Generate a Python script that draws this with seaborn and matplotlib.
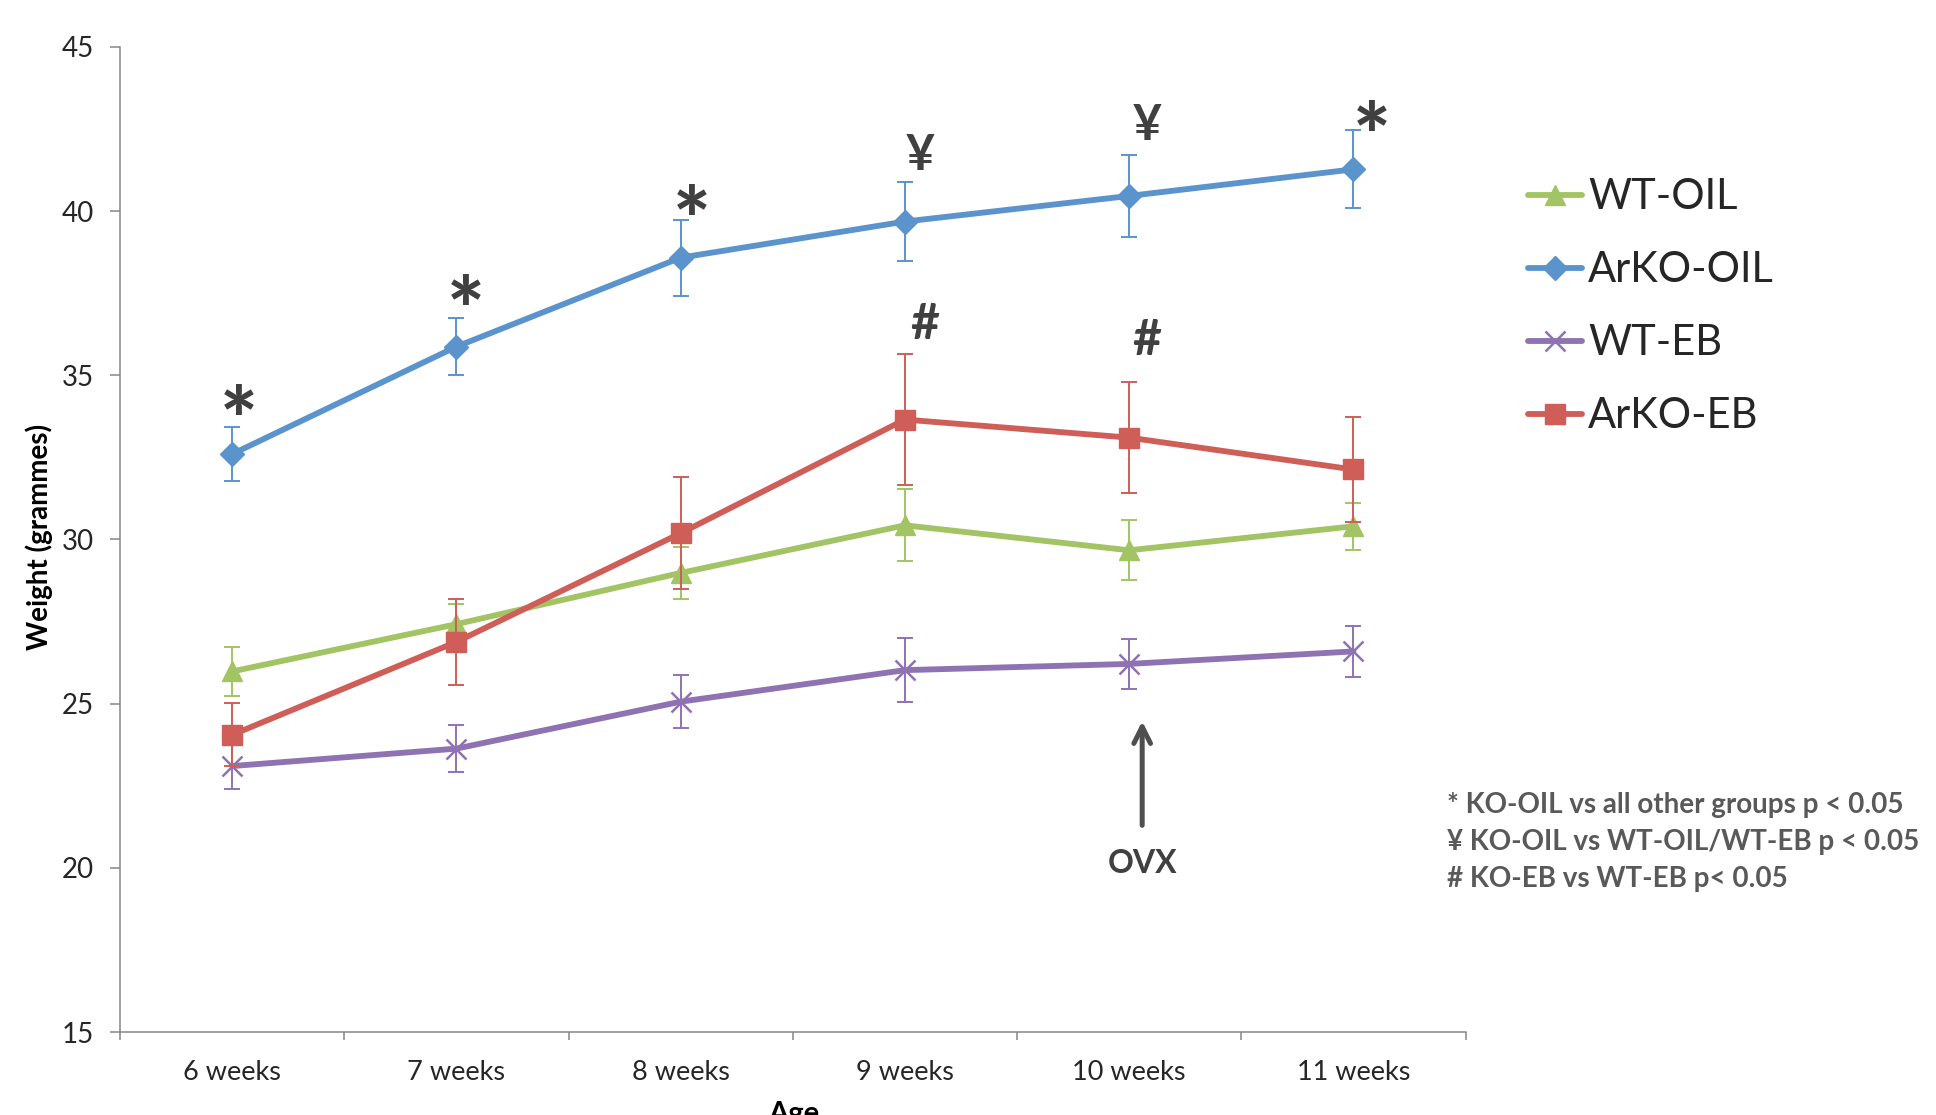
import matplotlib
matplotlib.use("Agg")
import matplotlib.pyplot as plt
import seaborn as sns
import numpy as np

# Data
weeks = ["6 weeks", "7 weeks", "8 weeks", "9 weeks", "10 weeks", "11 weeks"]

wt_oil = [25.98, 27.42, 28.98, 30.43, 29.67, 30.40]
wt_oil_err = [0.75, 0.60, 0.80, 1.10, 0.92, 0.72]

arko_oil = [32.60, 35.87, 38.58, 39.68, 40.46, 41.27]
arko_oil_err = [0.83, 0.87, 1.16, 1.19, 1.25, 1.19]

wt_eb = [23.10, 23.63, 25.06, 26.02, 26.21, 26.59]
wt_eb_err = [0.70, 0.71, 0.80, 0.98, 0.77, 0.77]

arko_eb = [24.05, 26.88, 30.19, 33.65, 33.10, 32.13]
arko_eb_err = [0.96, 1.30, 1.70, 2.00, 1.68, 1.60]

groups = ["WT-OIL", "ArKO-OIL", "WT-EB", "ArKO-EB"]
colors = ["#A2C464", "#5B94CC", "#8E72B2", "#CF5E58"]
markers = ["^", "D", "x", "s"]
marker_sizes = [15, 12, 15, 14]

# significance symbols
sig_symbols = ["*", "*", "*", "¥", "¥", "*", "#", "#"]
sig_x = [0.03, 1.04, 2.05, 3.07, 4.08, 5.08, 3.09, 4.08]
sig_y = [33.45, 36.80, 39.54, 41.70, 42.61, 42.10, 36.55, 36.05]

footnotes = ["* KO-OIL vs all other groups p < 0.05",
             "¥ KO-OIL vs WT-OIL/WT-EB p < 0.05",
             "# KO-EB vs WT-EB p< 0.05"]

sns.set_style("white")
plt.rcParams["font.family"] = ["Lato", "DejaVu Sans"]

fig = plt.figure(figsize=(19.36, 11.15), dpi=100)
ax = fig.add_axes([0.062, 0.0744, 0.695, 0.8836])

x = np.arange(len(weeks))
series = [(wt_oil, wt_oil_err), (arko_oil, arko_oil_err),
          (wt_eb, wt_eb_err), (arko_eb, arko_eb_err)]

for i, (vals, errs) in enumerate(series):
    ax.errorbar(x, vals, yerr=errs, fmt="none", ecolor=colors[i],
                elinewidth=1.4, capsize=6, capthick=1.4, zorder=2 + i)
    sns.lineplot(x=x, y=vals, ax=ax, color=colors[i], marker=markers[i],
                 markersize=marker_sizes[i], markeredgecolor=colors[i],
                 markeredgewidth=1.8 if markers[i] == "x" else 1.0,
                 linewidth=4.2, label=groups[i], zorder=2 + i)

# axes styling
ax.set_xlim(-0.5, 5.5)
ax.set_ylim(15, 45)
ax.set_yticks(range(15, 46, 5))
ax.set_xticks(np.arange(-0.5, 6.0, 1.0))
ax.set_xticklabels([])
ax.set_xticks(x, minor=True)
ax.set_xticklabels(weeks, minor=True)
ax.tick_params(axis="x", which="major", length=6, width=1.1, color="#868686", direction="out")
ax.tick_params(axis="x", which="minor", length=0, pad=20, labelsize=19.5)
ax.tick_params(axis="y", length=7, width=1.1, color="#868686", direction="out",
               pad=12, labelsize=20)
ax.tick_params(bottom=True, left=True, which="both")
ax.tick_params(axis="x", which="minor", length=0)
for s in ["top", "right"]:
    ax.spines[s].set_visible(False)
for s in ["left", "bottom"]:
    ax.spines[s].set_color("#868686")
    ax.spines[s].set_linewidth(1.1)
ax.set_xlabel("")
ax.set_ylabel("")

# significance marks
for sym, sx, sy in zip(sig_symbols, sig_x, sig_y):
    ax.text(sx, sy, sym, ha="center", va="center", fontsize=64 if sym == "*" else 36,
            fontweight="black" if sym == "*" else "bold", color="#404040", zorder=10)

# OVX arrow
ax.annotate("", xy=(4.058, 24.55), xytext=(4.058, 21.21),
            arrowprops=dict(arrowstyle="->", color="#4f4f4f", lw=3.6,
                            mutation_scale=30))
ax.text(4.058, 20.13, "OVX", ha="center", va="center", fontsize=23,
        fontweight="bold", color="#404040")

# legend
handles, labels = ax.get_legend_handles_labels()
ax.legend_.remove()
fig.legend(handles, labels, loc="upper left", bbox_to_anchor=(0.789, 0.840),
           bbox_transform=fig.transFigure, frameon=False, fontsize=30,
           handlelength=1.3, handletextpad=0.15, labelspacing=0.84,
           borderpad=0, borderaxespad=0)

# footnotes
for i, line in enumerate(footnotes):
    fig.text(0.7475, 1 - (805 + 37 * i) / 1115, line, ha="left", va="center",
             fontsize=20, fontweight="bold", color="#595959")

fig.text(0.0204, 0.518, "Weight (grammes)", rotation=90, ha="center", va="center",
         fontsize=20, fontweight="bold", color="black")
fig.text(0.41, 1 - 1101 / 1115, "Age", ha="center", va="top",
         fontsize=21, fontweight="bold", color="black")

fig.savefig("out.png", dpi=100)
